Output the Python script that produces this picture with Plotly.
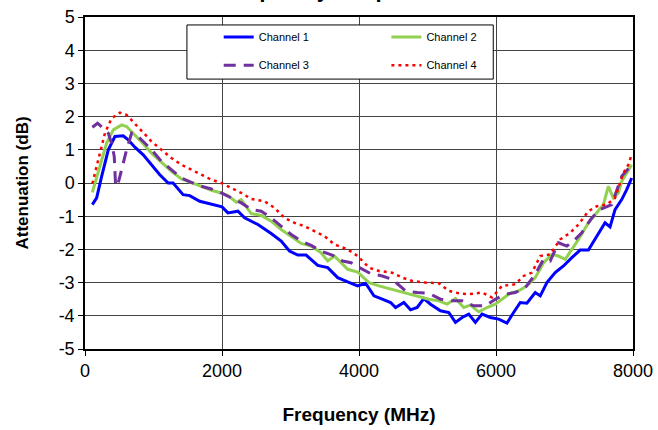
import plotly.graph_objects as go

# Channel 1 (blue)
f1 = [107, 170, 243, 340, 437, 558, 631, 728, 850, 971, 1092, 1214, 1286, 1432, 1529, 1675, 1820, 1942,
      2000, 2087, 2233, 2330, 2524, 2718, 2864, 2985, 3107, 3228, 3398, 3544, 3689, 3835, 3980,
      4097, 4218, 4340, 4461, 4534, 4655, 4752, 4849, 4947, 5044, 5189, 5311, 5408, 5505, 5602,
      5699, 5796, 5917, 6039, 6160, 6257, 6354, 6451, 6573, 6646, 6743, 6864, 6985, 7107, 7228,
      7349, 7471, 7592, 7665, 7738, 7835, 7908, 7980]
a1 = [-0.65, -0.45, 0.2, 1.0, 1.4, 1.42, 1.3, 1.08, 0.85, 0.55, 0.25, 0.0, 0.0, -0.35, -0.38, -0.55, -0.62, -0.68,
      -0.72, -0.9, -0.85, -1.05, -1.25, -1.52, -1.75, -2.05, -2.17, -2.17, -2.48, -2.55, -2.85, -2.98, -3.1,
      -3.02, -3.4, -3.5, -3.6, -3.75, -3.6, -3.82, -3.75, -3.48, -3.65, -3.85, -3.9, -4.2, -4.05, -3.95,
      -4.2, -3.95, -4.05, -4.1, -4.22, -3.9, -3.6, -3.62, -3.3, -3.4, -3.0, -2.7, -2.5, -2.25, -2.02,
      -2.02, -1.6, -1.2, -1.32, -0.8, -0.5, -0.2, 0.15]

# Channel 2 (green)
f2 = [107, 218, 316, 413, 534, 607, 728, 850, 971, 1117, 1262, 1408, 1553, 1699, 1845, 1990, 2087, 2209,
      2281, 2427, 2573, 2718, 2864, 3010, 3155, 3301, 3446, 3544, 3640, 3738, 3835, 3980,
      4146, 4291, 4437, 4582, 4728, 4874, 5019, 5165, 5286, 5408, 5529, 5626, 5748, 5869, 5990,
      6087, 6209, 6330, 6451, 6573, 6694, 6815, 6912, 7010, 7107, 7204, 7349, 7471, 7568, 7640,
      7713, 7786, 7835, 7908, 7980]
a2 = [-0.28, 0.5, 1.2, 1.6, 1.75, 1.7, 1.45, 1.18, 0.9, 0.62, 0.35, 0.12, 0.02, -0.1, -0.22, -0.3, -0.38, -0.58,
      -0.5, -0.92, -0.98, -1.15, -1.4, -1.6, -1.82, -1.9, -2.1, -2.35, -2.2, -2.4, -2.6, -2.68,
      -3.0, -3.1, -3.18, -3.25, -3.32, -3.4, -3.5, -3.55, -3.65, -3.48, -3.75, -3.68, -3.88, -3.75, -3.65,
      -3.5, -3.32, -3.25, -3.1, -2.85, -2.4, -2.15, -2.2, -2.3, -2.0, -1.7, -1.2, -0.9, -0.65, -0.1,
      -0.45, -0.3, 0.05, 0.3, 0.55]

# Channel 3 (purple, dashed)
f3 = [107, 184, 267, 340, 388, 427, 447, 485, 534, 607, 680, 752, 850, 971, 1117, 1262, 1408, 1553, 1699,
      1845, 1990, 2136, 2281, 2427, 2573, 2718, 2864, 3010, 3155, 3301, 3446, 3616, 3762, 3883, 3980,
      4170, 4340, 4485, 4680, 4849, 5019, 5189, 5359, 5505, 5675, 5845, 5990, 6136, 6281, 6427,
      6573, 6694, 6791, 6912, 7034, 7155, 7252, 7398, 7519, 7689, 7835, 7932, 7980]
a3 = [1.68, 1.8, 1.65, 1.5, 1.2, 0.8, -0.1, 0.0, 0.4, 1.0, 1.5, 1.45, 1.25, 1.0, 0.65, 0.4, 0.15, 0.02, -0.1,
      -0.18, -0.3, -0.45, -0.6, -0.8, -0.85, -1.05, -1.3, -1.55, -1.75, -1.88, -2.05, -2.18, -2.35, -2.4, -2.52,
      -2.73, -2.8, -2.9, -3.25, -3.3, -3.32, -3.5, -3.55, -3.55, -3.7, -3.7, -3.5, -3.35, -3.3, -3.15,
      -2.75, -2.3, -2.35, -1.8, -1.9, -1.7, -1.5, -1.05, -0.8, -0.65, 0.2, 0.45, 0.55]

# Channel 4 (red, dotted)
f4 = [107, 194, 291, 388, 510, 607, 728, 850, 971, 1117, 1262, 1408, 1553, 1699, 1845, 1990, 2136, 2281,
      2427, 2621, 2767, 2912, 3058, 3204, 3349, 3495, 3640, 3835, 3980,
      4146, 4291, 4485, 4631, 4777, 4971, 5165, 5311, 5456, 5602, 5796, 5942, 6087, 6281, 6403,
      6524, 6646, 6791, 6937, 7082, 7204, 7349, 7471, 7616, 7738, 7859, 7932, 7980]
a4 = [-0.02, 0.7, 1.5, 1.95, 2.12, 2.05, 1.8, 1.52, 1.25, 1.0, 0.75, 0.55, 0.4, 0.25, 0.1, 0.0, -0.15, -0.3,
      -0.48, -0.55, -0.75, -1.05, -1.2, -1.3, -1.45, -1.6, -1.85, -2.0, -2.2,
      -2.55, -2.65, -2.7, -2.85, -2.95, -3.0, -3.02, -3.25, -3.32, -3.35, -3.3, -3.45, -3.1, -3.05, -2.8,
      -2.7, -2.2, -2.15, -1.7, -1.5, -1.25, -0.85, -0.7, -0.65, -0.45, 0.3, 0.55, 0.85]

x_ticks = [0, 2000, 4000, 6000, 8000]
y_ticks = [-5, -4, -3, -2, -1, 0, 1, 2, 3, 4, 5]

font = "Arial, Liberation Sans, sans-serif"

fig = go.Figure()
# one small legend per entry so the 2x2 layout of the original can be kept
fig.add_trace(go.Scatter(x=f1, y=a1, mode='lines', name='Channel 1', legend='legend',
                         line=dict(color='#0000FF', width=3)))
fig.add_trace(go.Scatter(x=f2, y=a2, mode='lines', name='Channel 2', legend='legend2',
                         line=dict(color='#92D050', width=3)))
fig.add_trace(go.Scatter(x=f3, y=a3, mode='lines', name='Channel 3', legend='legend3',
                         line=dict(color='#7030A0', width=3, dash='12px,8px')))
fig.add_trace(go.Scatter(x=f4, y=a4, mode='lines', name='Channel 4', legend='legend4',
                         line=dict(color='#FF0000', width=2.5, dash='3px,4px')))

leg = dict(bgcolor='rgba(0,0,0,0)', borderwidth=0, font=dict(size=11),
           xanchor='left', yanchor='middle', itemwidth=30)

fig.update_layout(
    width=658, height=430,
    margin=dict(l=85, r=25, t=17, b=81),
    paper_bgcolor='white', plot_bgcolor='white',
    font=dict(family=font, color='black'),
    title=dict(text='<b>Frequency Response</b>', font=dict(size=22, color='black'),
               x=0.5, xanchor='center', yref='container', y=1, yanchor='bottom',
               pad=dict(b=3)),
    showlegend=True,
    legend=dict(leg, x=0.244, y=0.94),
    legend2=dict(leg, x=0.55, y=0.94),
    legend3=dict(leg, x=0.244, y=0.855),
    legend4=dict(leg, x=0.55, y=0.855),
    shapes=[dict(type='rect', xref='paper', yref='paper', x0=0.186, x1=0.745, y0=0.813, y1=0.976,
                 fillcolor='white', line=dict(color='black', width=1), layer='above')],
)
fig.update_xaxes(range=[0, 8000], tickvals=x_ticks, ticktext=[str(v) for v in x_ticks],
                 showgrid=True, gridcolor='#444', gridwidth=1,
                 showline=True, linecolor='black', linewidth=1.5, mirror=True,
                 ticks='outside', ticklen=5, tickcolor='black', zeroline=False,
                 tickfont=dict(size=18), automargin=False,
                 title=dict(text='<b>Frequency (MHz)</b>', font=dict(size=19), standoff=27))
fig.update_yaxes(range=[-5, 5], tickvals=y_ticks, ticktext=[str(v) for v in y_ticks],
                 showgrid=True, gridcolor='#444', gridwidth=1,
                 showline=True, linecolor='black', linewidth=1.5, mirror=True,
                 ticks='outside', ticklen=5, tickcolor='black', zeroline=False,
                 tickfont=dict(size=18), automargin=False,
                 title=dict(text='<b>Attenuation (dB)</b>', font=dict(size=17), standoff=26))

fig.write_html("out.html", config={'displayModeBar': False},
               post_script="document.body.style.margin = '0';")
